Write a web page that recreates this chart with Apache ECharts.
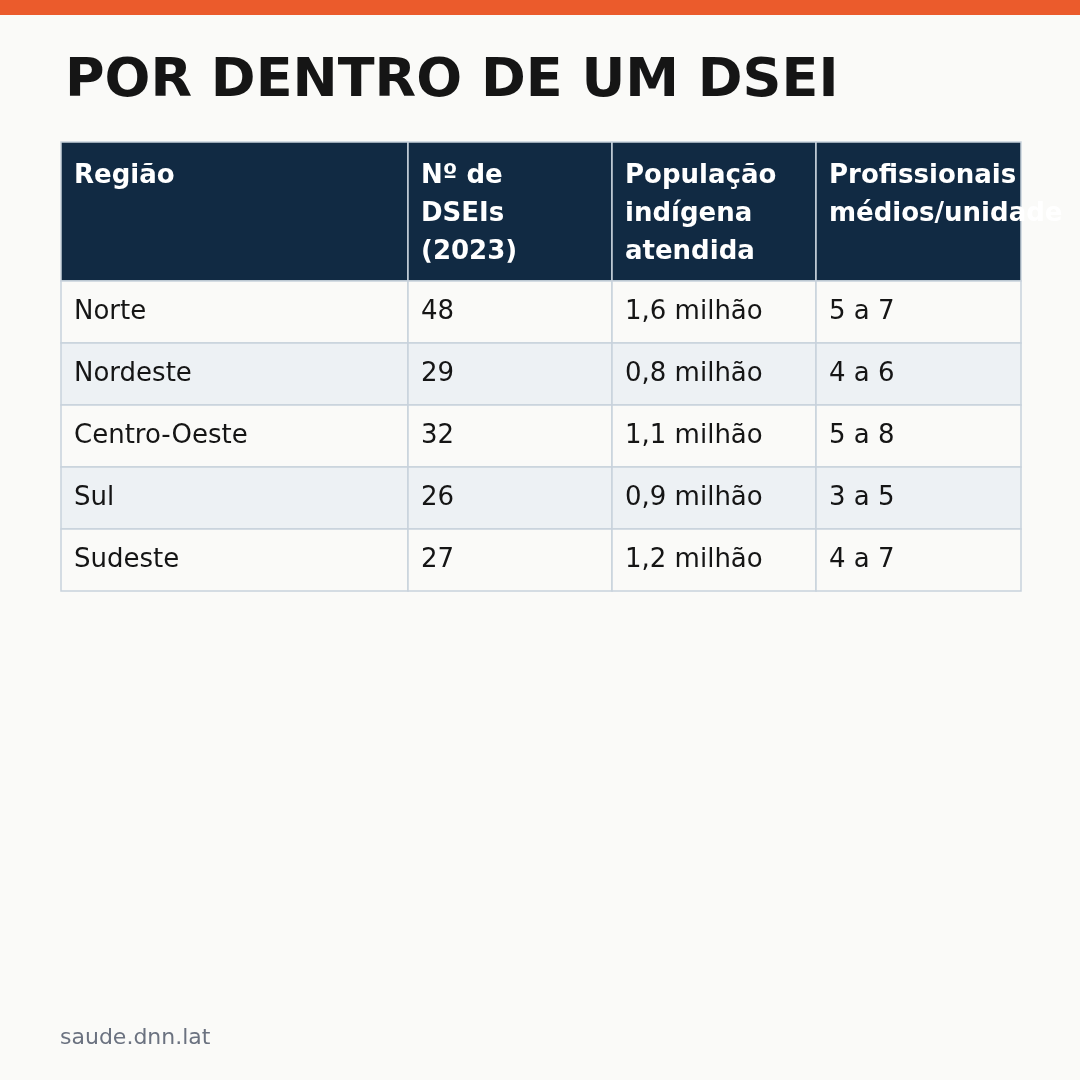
<!DOCTYPE html>
<html><head><meta charset="utf-8">
<script src="https://cdn.jsdelivr.net/npm/echarts@6/dist/echarts.min.js"></script>
<style>html,body{margin:0;padding:0;background:#fafaf8}#c{width:1080px;height:1080px}</style>
</head><body><div id="c"></div>
<script>
const headers = ["Região", "Nº de\nDSEIs\n(2023)", "População\nindígena\natendida", "Profissionais\nmédios/unidade"];
const regions = ["Norte", "Nordeste", "Centro-Oeste", "Sul", "Sudeste"];
const dseis = ["48", "29", "32", "26", "27"];
const populacao = ["1,6 milhão", "0,8 milhão", "1,1 milhão", "0,9 milhão", "1,2 milhão"];
const profissionais = ["5 a 7", "4 a 6", "5 a 8", "3 a 5", "4 a 7"];

const colEdges = [0, 347, 551, 755, 960];
const rowEdges = [0, 139, 201, 263, 325, 387, 449];
const columns = [regions, dseis, populacao, profissionais];
const cells = [];
for (let c = 0; c < 4; c++) {
  cells.push({value: [c, 0], label: headers[c]});
  for (let r = 0; r < regions.length; r++) cells.push({value: [c, r + 1], label: columns[c][r]});
}
const chart = echarts.init(document.getElementById('c'));
chart.setOption({
  backgroundColor: '#fafaf8',
  title: {text: 'POR DENTRO DE UM DSEI', left: 60, top: 50,
    textStyle: {fontFamily: 'DejaVu Sans', fontSize: 54, fontWeight: 'bold', color: '#151515'}},
  graphic: [
    {type: 'rect', shape: {x: 0, y: 0, width: 1080, height: 15}, style: {fill: '#eb5b2c'}},
    {type: 'text', left: 60, top: 1027, style: {text: 'saude.dnn.lat', font: '22px DejaVu Sans', fill: '#6b7280'}}
  ],
  grid: {left: 61, top: 142, width: 960, height: 449},
  xAxis: {type: 'value', min: 0, max: 960, show: false},
  yAxis: {type: 'value', min: 0, max: 449, inverse: true, show: false},
  series: [{
    type: 'custom', clip: false, data: cells.map(d => d.value),
    renderItem: (params, api) => {
      const c = api.value(0), r = api.value(1);
      const p0 = api.coord([colEdges[c], rowEdges[r]]);
      const p1 = api.coord([colEdges[c + 1], rowEdges[r + 1]]);
      const head = r === 0;
      const fill = head ? '#112a43' : (r % 2 === 0 ? '#edf1f4' : '#fafaf8');
      const txt = cells[params.dataIndex].label;
      return {type: 'group', children: [
        {type: 'rect', shape: {x: p0[0], y: p0[1], width: p1[0] - p0[0], height: p1[1] - p0[1]},
          style: {fill: fill, stroke: head ? '#c8d2dc' : '#c8d2dc', lineWidth: 1.5}},
        {type: 'text', z2: 10, x: p0[0] + 13, y: head ? p0[1] + 15 : (p0[1] + p1[1]) / 2,
          style: {text: txt, fill: head ? '#ffffff' : '#151515',
            font: (head ? 'bold ' : '') + '26px DejaVu Sans', lineHeight: 38,
            verticalAlign: head ? 'top' : 'middle', align: 'left'}}
      ]};
    }
  }]
});
</script></body></html>
